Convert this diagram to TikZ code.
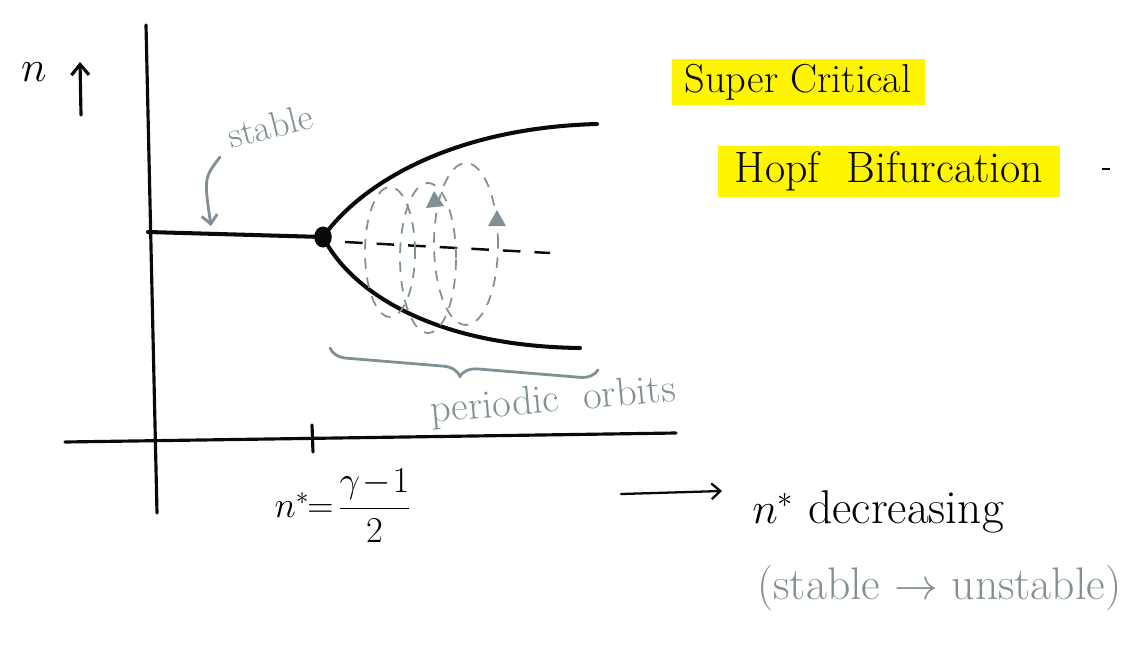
\documentclass[tikz,border=0pt]{standalone}
\usepackage{amsmath,amssymb}
\usetikzlibrary{arrows.meta,positioning,calc,decorations.pathreplacing}
\definecolor{HandGray}{RGB}{128,144,148}
\definecolor{HiYellow}{RGB}{255,245,0}
\definecolor{InkDark}{RGB}{10,10,10}

\begin{document}
\begin{tikzpicture}[x=0.02cm,y=-0.02cm,
    ink/.style={draw=InkDark, line width=1.8pt, line cap=round},
    branch/.style={draw=InkDark, line width=2.3pt, line cap=round},
    orbit/.style={draw=HandGray, line width=1pt, dash pattern=on 6pt off 5pt},
    grayink/.style={draw=HandGray, line width=1.6pt, line cap=round},
    highlight/.style={fill=HiYellow, inner sep=3pt, text=InkDark},
    note/.style={text=HandGray, inner sep=0pt}]
  \useasboundingbox (0,0) rectangle (1138,649);

  % axes
  \coordinate (ytop) at (146,25);
  \coordinate (ybot) at (157,513);
  \coordinate (xleft) at (65,442);
  \coordinate (xright) at (676,433);
  \draw[ink] (ytop) -- (ybot);
  \draw[ink] (xleft) -- (xright);
  \node[font=\fontsize{24}{28}\selectfont, inner sep=0pt] (nlabel) at (34,72) {$n$};
  \coordinate (nup0) at (81,115);
  \coordinate (nup1) at (80,62);
  \draw[ink, -{Straight Barb[length=6pt,width=10pt]}] (nup0) -- (nup1);

  % branches
  \coordinate (hopf) at (323,237);
  \draw[branch] (148,232) -- (hopf);
  \draw[branch] (hopf) .. controls (360,185) and (450,128) .. (597,124);
  \draw[branch] (hopf) .. controls (350,290) and (430,346) .. (580,348);
  \fill[InkDark] (hopf) ellipse (5pt and 6pt);
  \draw[InkDark, line width=1.4pt, dash pattern=on 10pt off 8pt] (345,242) -- (550,253);

  % periodic orbits
  \draw[orbit] (390,252) ellipse (0.5cm and 1.3cm);
  \draw[orbit] (428,258) ellipse (0.56cm and 1.5cm);
  \draw[orbit] (466,244) ellipse (0.64cm and 1.62cm);
  \fill[HandGray] (426,208) -- (444,206) -- (434,191) -- cycle;
  \fill[HandGray] (488,226) -- (506,226) -- (497,210) -- cycle;

  % stable label
  \node[note, rotate=14, font=\fontsize{21}{24}\selectfont] (stable) at (270,126) {stable};
  \coordinate (stabletip) at (211,226);
  \draw[grayink, -{Straight Barb[length=5pt,width=9pt]}] (220,157) .. controls (204,178) .. (stabletip);

  % brace
  \draw[grayink, decorate, decoration={brace, mirror, amplitude=10pt, aspect=0.49}]
    (330,348) -- (598,370);
  \node[note, rotate=5, font=\fontsize{23}{26}\selectfont] (orbits) at (553,402) {periodic\ \ orbits};

  % critical value
  \coordinate (tick0) at (312,425);
  \coordinate (tick1) at (313,452);
  \draw[ink] (tick0) -- (tick1);
  \node[font=\fontsize{21}{25}\selectfont, inner sep=0pt] (nstar) at (343,506)
    {$n^{*}\!\!=\!\dfrac{\gamma\!-\!1}{2}$};

  % direction
  \coordinate (dir0) at (621,494);
  \coordinate (dir1) at (722,491);
  \draw[InkDark, line width=1.3pt, line cap=round, -{Straight Barb[length=5pt,width=9pt]}] (dir0) -- (dir1);
  \node[font=\fontsize{27}{32}\selectfont, inner sep=0pt, anchor=west] (decr) at (752,512) {$n^{*}$ decreasing};
  \node[note, font=\fontsize{26}{30}\selectfont, anchor=west] (change) at (757,588) {(stable $\to$ unstable)};

  % title
  \node[highlight, font=\fontsize{23}{26}\selectfont, minimum width=253*0.02cm, minimum height=45*0.02cm] (super) at (798,82) {Super Critical};
  \node[highlight, font=\fontsize{25}{28}\selectfont, minimum width=342*0.02cm, minimum height=51*0.02cm] (hopftitle) at (889,171) {Hopf\ \ Bifurcation};
  \coordinate (dash0) at (1102,169);
  \coordinate (dash1) at (1110,169);
  \draw[InkDark, line width=1.2pt] (dash0) -- (dash1);
\end{tikzpicture}
\end{document}
